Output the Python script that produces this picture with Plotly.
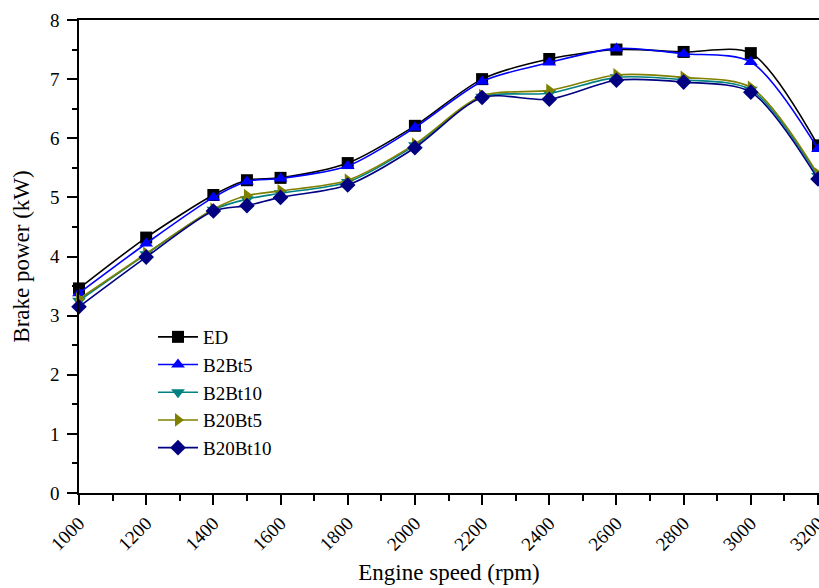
import plotly.graph_objects as go

speed = [1000, 1200, 1400, 1500, 1600, 1800, 2000, 2200, 2400, 2600, 2800, 3000, 3200]
ed = [3.46, 4.32, 5.04, 5.29, 5.33, 5.58, 6.21, 7.00, 7.34, 7.50, 7.46, 7.44, 5.88]
b2bt5 = [3.38, 4.22, 5.00, 5.27, 5.32, 5.53, 6.18, 6.96, 7.28, 7.52, 7.43, 7.29, 5.82]
b2bt10 = [3.25, 4.04, 4.79, 4.97, 5.07, 5.26, 5.88, 6.70, 6.76, 7.03, 6.99, 6.82, 5.36]
b20bt5 = [3.28, 4.05, 4.80, 5.03, 5.11, 5.29, 5.90, 6.72, 6.81, 7.07, 7.03, 6.86, 5.39]
b20bt10 = [3.15, 3.99, 4.77, 4.86, 5.00, 5.21, 5.84, 6.69, 6.66, 6.98, 6.95, 6.78, 5.31]

x_ticks = [1000, 1200, 1400, 1600, 1800, 2000, 2200, 2400, 2600, 2800, 3000, 3200]
x_ticktext = ["1000", "1200", "1400", "1600", "1800", "2000", "2200", "2400", "2600", "2800", "3000", "3200"]

series = [
    ("ED", ed, "#000000", "square"),
    ("B2Bt5", b2bt5, "#0000ff", "triangle-up"),
    ("B2Bt10", b2bt10, "#008080", "triangle-down"),
    ("B20Bt5", b20bt5, "#808000", "triangle-right"),
    ("B20Bt10", b20bt10, "#000080", "diamond"),
]

fig = go.Figure()
for name, vals, color, sym in series:
    fig.add_trace(go.Scatter(
        x=speed, y=vals, name=name, mode="lines+markers",
        line=dict(color=color, width=1.6, shape="spline", smoothing=0.8),
        marker=dict(symbol=sym, size=12, color=color),
        cliponaxis=False,
    ))

font_family = "Liberation Serif, Times New Roman, serif"

fig.update_layout(
    width=819, height=588,
    margin=dict(l=79, r=0, t=20, b=95),
    paper_bgcolor="white", plot_bgcolor="white",
    font=dict(family=font_family, color="black", size=19),
    showlegend=True,
    legend=dict(
        x=0.10, y=0.37, xanchor="left", yanchor="top",
        bgcolor="rgba(0,0,0,0)", font=dict(family=font_family, size=19),
        itemwidth=40, tracegroupgap=0,
    ),
    xaxis=dict(
        range=[1000, 3203], tickmode="array",
        tickvals=x_ticks, ticktext=x_ticktext, ticklabeloverflow="allow",
        tickangle=-45, ticks="outside", ticklen=10, tickwidth=1.5, tickcolor="black",
        minor=dict(ticks="outside", ticklen=6, tickwidth=1.5, tickcolor="black", dtick=100, tick0=1000),
        showline=True, linecolor="black", linewidth=1.5, mirror=True,
        showgrid=False, zeroline=False, automargin=False,
        tickfont=dict(family=font_family, size=19),
        title=dict(text="Engine speed (rpm)", font=dict(family=font_family, size=23), standoff=10),
    ),
    yaxis=dict(
        range=[0, 8], dtick=1, tick0=0,
        ticks="outside", ticklen=10, tickwidth=1.5, tickcolor="black",
        minor=dict(ticks="outside", ticklen=5, tickwidth=1.5, tickcolor="black", dtick=0.5),
        showline=True, linecolor="black", linewidth=1.5, mirror=False,
        showgrid=False, zeroline=False, automargin=False,
        tickfont=dict(family=font_family, size=19),
        ticklabelstandoff=4,
        title=dict(text="Brake power (kW)", font=dict(family=font_family, size=23), standoff=14),
    ),
)

fig.write_html(
    "out.html",
    config={"displayModeBar": False},
    post_script="document.body.style.margin='0';document.body.style.overflow='hidden';",
)
